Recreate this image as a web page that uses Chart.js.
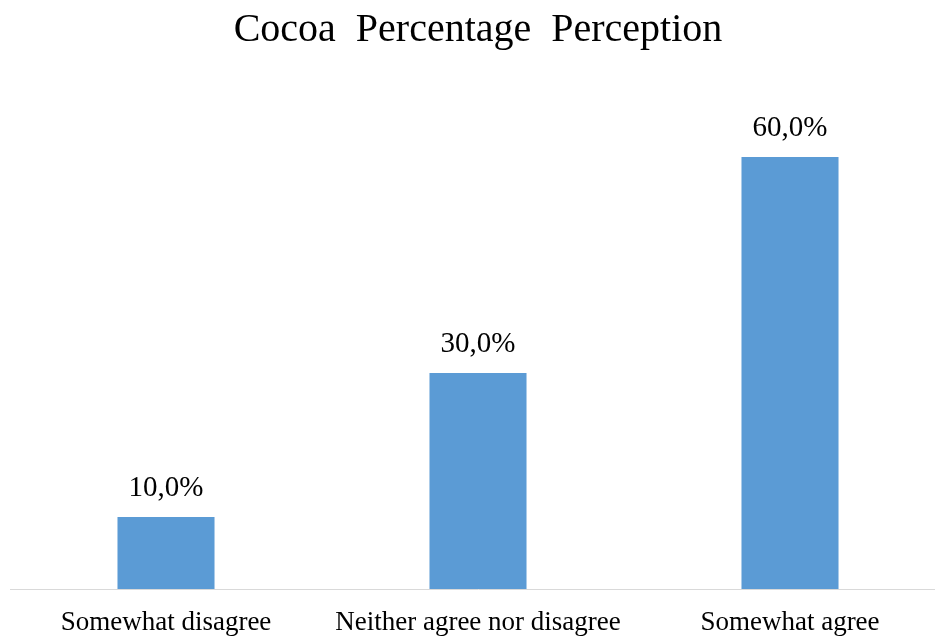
<!DOCTYPE html>
<html>
<head>
<meta charset="utf-8">
<script src="https://cdn.jsdelivr.net/npm/chart.js@4"></script>
<style>
  html, body { margin: 0; padding: 0; background: #fff; overflow: hidden; }
  body { width: 935px; height: 637px; }
  #wrap { width: 950px; height: 637px; }
</style>
</head>
<body>
<div id="wrap"><canvas id="cocoaChart" width="950" height="637"></canvas></div>
<script>
const categories = ["Somewhat disagree", "Neither agree nor disagree", "Somewhat agree"];
const shares = [10, 30, 60];
const valueLabels = ["10,0%", "30,0%", "60,0%"];

const serif = "'Liberation Serif', 'Times New Roman', serif";

// labels over the bars, placed from the bar elements
const barLabels = {
  id: "barLabels",
  afterDatasetsDraw(chart) {
    const ctx = chart.ctx;
    const meta = chart.getDatasetMeta(0);
    ctx.save();
    ctx.font = "29px " + serif;
    ctx.fillStyle = "#000";
    ctx.textAlign = "center";
    ctx.textBaseline = "alphabetic";
    meta.data.forEach((bar, i) => {
      ctx.fillText(valueLabels[i], bar.x, bar.y - 21);
    });
    ctx.restore();
  }
};

new Chart(document.getElementById("cocoaChart"), {
  type: "bar",
  data: {
    labels: categories,
    datasets: [{
      data: shares,
      backgroundColor: "#5B9BD5",
      barPercentage: 0.311,
      categoryPercentage: 1
    }]
  },
  options: {
    responsive: false,
    animation: false,
    layout: { padding: { left: 10, right: 4, top: 0, bottom: 0 } },
    plugins: {
      legend: { display: false },
      tooltip: { enabled: false },
      title: {
        display: true,
        text: "Cocoa  Percentage  Perception",
        color: "#000",
        font: { family: serif, size: 40, weight: "normal" },
        padding: { top: 6, bottom: 31 }
      }
    },
    scales: {
      x: {
        grid: { display: false, drawTicks: false },
        border: { display: true, color: "#d9d9d9", width: 1 },
        ticks: {
          color: "#000",
          font: { family: serif, size: 27 },
          padding: 18,
          maxRotation: 0
        },
        afterFit: s => { s.height = 48; }
      },
      y: {
        display: false,
        min: 0,
        max: 70
      }
    }
  },
  plugins: [barLabels]
});
</script>
</body>
</html>
